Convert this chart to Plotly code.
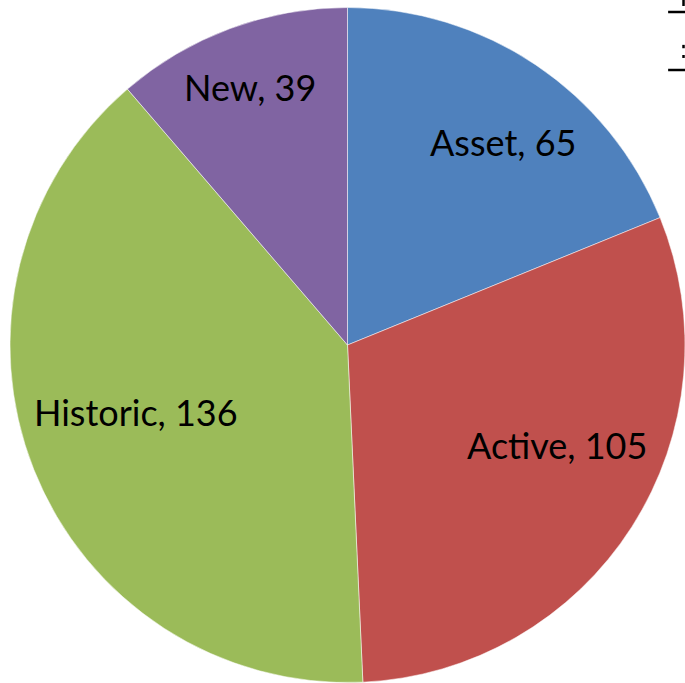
import math
import plotly.graph_objects as go

labels = ["Asset", "Active", "Historic", "New"]
values = [65, 105, 136, 39]
colors = ["#4F81BD", "#C0504D", "#9BBB59", "#8064A2"]
label_radius = [0.75, 0.69, 0.66, 0.81]      # fraction of pie radius where each label sits
label_angle_shift = [3.9, -6.6, 3.5, -0.6]   # degrees, best-fit nudge of each label

fig = go.Figure(go.Pie(
    labels=labels,
    values=values,
    sort=False,
    direction="clockwise",
    rotation=0,
    marker=dict(colors=colors, line=dict(color="rgba(255,255,255,0.5)", width=1)),
    textinfo="none",
    hoverinfo="label+value",
    showlegend=False,
    domain=dict(x=[0, 1], y=[0, 1]),
))

total = sum(values)
cum = 0
for lab, v, f, d in zip(labels, values, label_radius, label_angle_shift):
    mid = (cum + v / 2) / total * 2 * math.pi + math.radians(d)
    cum += v
    fig.add_annotation(
        x=0.5 + 0.5 * f * math.sin(mid),
        y=0.5 + 0.5 * f * math.cos(mid) + 0.004,
        xref="paper", yref="paper",
        xanchor="center", yanchor="middle",
        text=f"{lab}, {v}",
        showarrow=False,
        font=dict(family="Lato, Liberation Sans, sans-serif", size=36, color="black"),
    )

# fragments of a cut-off legend at the top-right edge
for y0 in [0.9926, 0.9068]:
    fig.add_shape(type="line", xref="paper", yref="paper",
                  x0=0.975, x1=1.02, y0=y0, y1=y0,
                  line=dict(color="black", width=2.5))
for ya, yb in [(1.011, 1.0015), (0.944, 0.939), (0.929, 0.9246)]:
    fig.add_shape(type="line", xref="paper", yref="paper",
                  x0=0.9978, x1=0.9978, y0=ya, y1=yb,
                  line=dict(color="black", width=2.5))

fig.update_layout(
    width=685, height=683,
    margin=dict(l=10, r=0, t=7, b=0),
    paper_bgcolor="white",
    plot_bgcolor="white",
)

fig.write_html(
    "out.html",
    config={"displayModeBar": False},
    post_script="document.body.style.margin='0';document.body.style.overflow='hidden';",
)
